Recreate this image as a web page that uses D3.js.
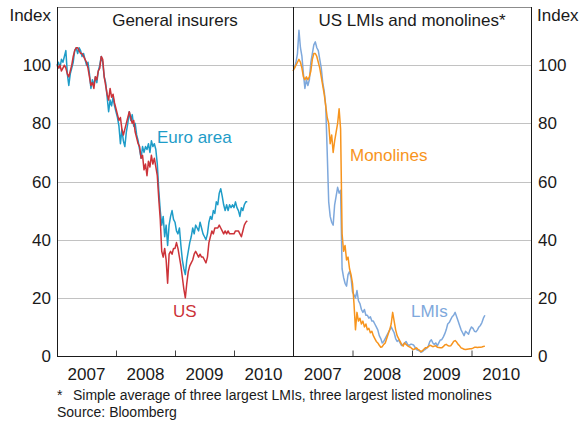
<!DOCTYPE html>
<html lang="en">
<head>
<meta charset="UTF-8">
<title>Insurers share prices</title>
<script src="https://d3js.org/d3.v7.min.js"></script>
<style>
    body { margin: 0; background: #fff; }
    svg text { font-family: "Liberation Sans", Arial, sans-serif; fill: #1a1a1a; }
    .grid { stroke: #c2c2c2; stroke-width: 1; }
    .series { fill: none; stroke-width: 1.5; stroke-linejoin: round; }
</style>
</head>
<body>
<div id="chart"></div>
<script>
// sample dates: every 0.025 of a year from the start of 2007 (rows of 10 = a quarter)
const startYear = 2007;
const step = 0.025;

const euroArea = [
    100, 101, 99, 102, 101, 103, 105, 97, 93, 97,
    99, 101, 105, 106, 104, 106, 105, 103, 104, 102,
    100, 101, 97, 92, 95, 93, 96, 94, 98, 100,
    103, 101, 96, 94, 89, 84, 88, 86, 89, 86,
    84, 82, 79, 73, 78, 74, 72, 77, 80, 84,
    81, 83, 79, 80, 76, 74, 71, 68, 72, 70,
    72, 71, 73, 70, 74, 72, 73, 71, 66, 57,
    50, 45, 48, 41, 45, 38, 45, 48, 50, 47,
    46, 43, 42, 44, 38, 33, 30, 28, 33, 36,
    39, 41, 44, 42, 45, 44, 43, 46, 44, 42,
    41, 40, 42, 46, 48, 47, 50, 49, 53, 52,
    56, 57.5, 55, 52, 50, 52, 50, 52, 51, 52,
    51, 53, 51, 50, 48, 51, 50, 52, 53, 53
];

const usGeneral = [
    100, 99, 100, 98, 99, 100, 99, 97, 96, 98,
    100, 103, 105, 106, 106, 105, 104, 104, 103, 102,
    101, 99, 96, 93, 94, 92, 96, 95, 98, 99,
    103, 102, 96, 93, 90, 88, 92, 89, 90, 87,
    85, 83, 81, 82, 78, 76, 78, 80, 82, 84,
    82, 80, 81, 77, 75, 73, 72, 68, 69, 64,
    66, 62, 67, 65, 69, 66, 68, 65, 62, 54,
    47, 36, 34, 37, 33, 25, 35, 36, 35, 37,
    37, 39, 37, 34, 31, 27, 23, 20, 25, 29,
    31, 32, 33, 35, 36, 35, 34, 35, 34, 34,
    33, 32, 34, 39, 41, 43, 42, 44, 44, 44,
    45, 44, 43, 42, 43, 42, 43, 42, 42, 42,
    42, 43, 43, 43, 42, 41, 43, 45, 46, 46.5
];

const lmis = [
    100, 99, 101, 104, 112, 106, 103, 97, 92, 95,
    93, 95, 101, 104, 107, 108, 106, 105, 102, 99,
    94, 91, 86, 70, 53, 48, 46, 45, 52, 55,
    58, 56, 57, 30, 27, 25, 24, 28, 29, 27,
    22, 21, 20, 22.5, 19, 18, 16, 15, 16, 14,
    14, 13, 13.5, 12, 12, 11, 10, 9, 7, 6,
    4.5, 5, 6, 7, 8, 9, 10, 9, 8, 6,
    5, 5.5, 4.5, 3.6, 4, 4.5, 5, 4, 3.6, 4,
    4, 3.8, 3, 2.2, 2, 1.8, 1.3, 1.5, 2, 2.3,
    2.8, 3.5, 5, 5.6, 4.5, 4, 4.5, 3.5, 4.5, 5.5,
    5.6, 6.5, 7.6, 9, 11, 11.5, 12.5, 13.5, 14, 15,
    13.5, 12, 10.5, 9, 8, 7, 8.5, 8, 7.5, 9,
    10, 9.5, 8.5, 8.3, 9, 10, 10.5, 11.5, 13, 14
];

const monolines = [
    98, 99, 100, 101, 102, 101, 99, 96, 95, 96,
    95, 96, 98, 102, 104, 104, 103, 101, 99, 96,
    93, 90, 86, 82, 80, 73, 76, 70, 74, 77,
    80, 85, 78, 42, 36, 38, 33, 34, 30, 28,
    25, 18, 9, 15, 12, 13, 11, 12, 10, 11,
    9, 9.5, 8, 8.5, 7, 6, 5, 4.5, 3.7, 3,
    3.2, 4, 4.5, 6, 7.6, 9, 11, 15, 12, 9,
    7, 6, 5, 4, 3.4, 4.5, 4, 3.5, 3.2, 3,
    2.5, 2.2, 2.5, 2.8, 2.3, 2, 1.5, 1.8, 2.3, 2.8,
    2.8, 3.2, 3.7, 3.5, 3.2, 3.4, 3.5, 3, 2.9, 2.8,
    2.8, 3.2, 3.8, 4, 3.6, 3.4, 3.5, 4.2, 5, 5.3,
    4.8, 4, 3.5, 2.8, 2.6, 2.3, 2.2, 2.3, 2.4, 2.5,
    2.5, 2.7, 3, 3, 2.9, 3, 3, 3.1, 3.3, 3.4
];

const years = [2007, 2008, 2009, 2010];
const yTicks = [0, 20, 40, 60, 80, 100];
const gridTicks = [20, 40, 60, 80, 100];

const width = 580, height = 421;
const plotTop = 7, plotBottom = 356;
const leftX = [57, 293], rightX = [293, 531];

const svg = d3.select("#chart").append("svg")
    .attr("width", width)
    .attr("height", height);

const y = d3.scaleLinear().domain([0, 120]).range([plotBottom, plotTop]);
const xL = d3.scaleLinear().domain([2007, 2011]).range(leftX);
const xR = d3.scaleLinear().domain([2007, 2011]).range(rightX);

// horizontal grid
svg.selectAll(".grid")
    .data(gridTicks)
    .enter().append("line")
    .attr("class", "grid")
    .attr("x1", leftX[0]).attr("x2", rightX[1])
    .attr("y1", d => Math.round(y(d)) + 0.5)
    .attr("y2", d => Math.round(y(d)) + 0.5);

function drawSeries(values, x, color) {
    const line = d3.line()
        .x((d, i) => x(startYear + i * step))
        .y(d => y(d));
    svg.append("path")
        .datum(values)
        .attr("class", "series")
        .attr("stroke", color)
        .attr("d", line);
}

drawSeries(euroArea, xL, "#1e9cc8");
drawSeries(usGeneral, xL, "#cc3339");
drawSeries(lmis, xR, "#7ea8dc");
drawSeries(monolines, xR, "#f7941d");

// frame
svg.append("line").attr("x1", leftX[0]).attr("x2", rightX[1])
    .attr("y1", plotTop + 0.5).attr("y2", plotTop + 0.5)
    .attr("stroke", "#8c8c8c").attr("stroke-width", 1);
[leftX[0], 293, rightX[1]].forEach(px => {
    svg.append("line")
        .attr("x1", px + 0.5).attr("x2", px + 0.5)
        .attr("y1", plotTop).attr("y2", plotBottom + 1)
        .attr("stroke", "#1a1a1a").attr("stroke-width", 1);
});

// x axes, ticks pointing inward
[xL, xR].forEach(x => {
    const axis = d3.axisTop(x)
        .tickValues([2008, 2009, 2010])
        .tickSize(6)
        .tickFormat("");
    const g = svg.append("g")
        .attr("transform", `translate(0,${plotBottom + 0.5})`)
        .call(axis);
    g.select(".domain").remove();
    g.selectAll(".tick line").attr("stroke", "#444");

    svg.append("line")
        .attr("x1", x.range()[0]).attr("x2", x.range()[1])
        .attr("y1", plotBottom + 0.5).attr("y2", plotBottom + 0.5)
        .attr("stroke", "#1a1a1a");

    svg.selectAll(null)
        .data(years)
        .enter().append("text")
        .attr("x", d => x(d + 0.5))
        .attr("y", 380)
        .attr("text-anchor", "middle")
        .style("font-size", "17px")
        .text(d => d);
});

// y labels both sides
svg.selectAll(null)
    .data(yTicks)
    .enter().append("text")
    .attr("x", 51)
    .attr("y", d => y(d))
    .attr("dy", "0.36em")
    .attr("text-anchor", "end")
    .style("font-size", "17px")
    .text(d => d);

svg.selectAll(null)
    .data(yTicks)
    .enter().append("text")
    .attr("x", 538)
    .attr("y", d => y(d))
    .attr("dy", "0.36em")
    .attr("text-anchor", "start")
    .style("font-size", "17px")
    .text(d => d);

svg.append("text").attr("x", 51).attr("y", 21).attr("text-anchor", "end")
    .style("font-size", "17px").text("Index");
svg.append("text").attr("x", 537).attr("y", 21)
    .style("font-size", "17px").text("Index");

// panel titles
svg.append("text").attr("x", 175).attr("y", 26).attr("text-anchor", "middle")
    .style("font-size", "17px").text("General insurers");
svg.append("text").attr("x", 412).attr("y", 26).attr("text-anchor", "middle")
    .style("font-size", "17px").text("US LMIs and monolines*");

// series labels
const labels = [
    { text: "Euro area", x: 157, y: 143, color: "#1e9cc8" },
    { text: "US", x: 173, y: 317, color: "#cc3339" },
    { text: "Monolines", x: 350, y: 161, color: "#f7941d" },
    { text: "LMIs", x: 411, y: 317, color: "#7ea8dc" }
];
svg.selectAll(null)
    .data(labels)
    .enter().append("text")
    .attr("x", d => d.x)
    .attr("y", d => d.y)
    .style("font-size", "17px")
    .style("fill", d => d.color)
    .text(d => d.text);

// notes
svg.append("text").attr("x", 57).attr("y", 400).style("font-size", "14px").text("*");
svg.append("text").attr("x", 73).attr("y", 400).style("font-size", "14px")
    .text("Simple average of three largest LMIs, three largest listed monolines");
svg.append("text").attr("x", 57).attr("y", 417).style("font-size", "14px")
    .text("Source: Bloomberg");
</script>
</body>
</html>
